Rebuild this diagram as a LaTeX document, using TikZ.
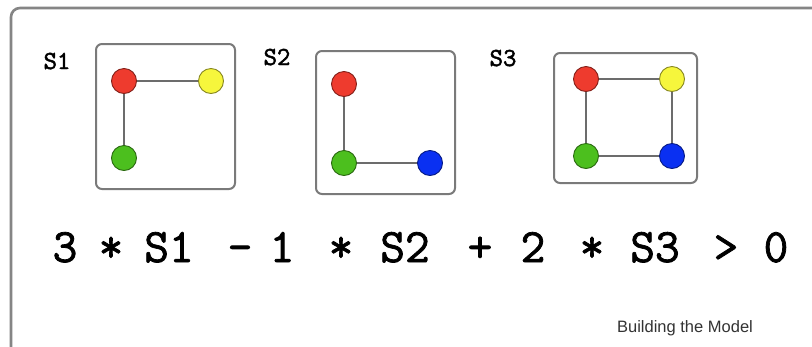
\documentclass[tikz,border=0pt]{standalone}
\usepackage{fontspec}
\setmainfont{Liberation Sans}
\newfontfamily\eqfont{Latin Modern Mono}[FakeBold=1.6]
\newfontfamily\lblfont{Latin Modern Mono}[FakeBold=1.8]
\definecolor{dotred}{HTML}{EE3B2E}
\definecolor{dotyellow}{HTML}{F6F63C}
\definecolor{dotgreen}{HTML}{4CBF1E}
\definecolor{dotblue}{HTML}{0A30F2}
\definecolor{framegray}{HTML}{858585}
\definecolor{boxgray}{HTML}{7A7A7A}
\definecolor{edgegray}{HTML}{6C6C6C}
\begin{document}
\begin{tikzpicture}[x=1bp,y=-1bp,
  dot/.style={circle, minimum size=25bp, inner sep=0pt, fill=#1, draw=#1!55!black, line width=0.9bp},
  panel/.style={draw=boxgray, line width=2bp, rounded corners=6bp, fill=white},
  link/.style={draw=edgegray, line width=1.7bp},
  lbl/.style={font=\lblfont\fontsize{26bp}{26bp}\selectfont, anchor=base, inner sep=0pt},
  term/.style={font=\eqfont\fontsize{48bp}{48bp}\selectfont, anchor=base, inner sep=0pt},
  caption/.style={font=\fontsize{16.5bp}{16.5bp}\selectfont, text=black!80, anchor=base, inner sep=0pt}]
\useasboundingbox (0,0) rectangle (812,346);
\fill[white] (0,0) rectangle (812,346);

% outer frame, running off the right and bottom edges
\draw[framegray, line width=2.6bp, rounded corners=9bp] (11,360) -- (11,8) -- (830,8);

% panel S1
\node[lbl] (s1) at (57,69) {S1};
\draw[panel] (96,44) rectangle (235,189);
\node[dot=dotred]    (a1) at (124,81) {};
\node[dot=dotyellow] (b1) at (211,81) {};
\node[dot=dotgreen]  (c1) at (124,158) {};
\draw[link] (a1) -- (b1);
\draw[link] (a1) -- (c1);

% panel S2
\node[lbl] (s2) at (277,65) {S2};
\draw[panel] (316,51) rectangle (455,194);
\node[dot=dotred]   (a2) at (344,84) {};
\node[dot=dotgreen] (c2) at (344,163) {};
\node[dot=dotblue]  (d2) at (430,163) {};
\draw[link] (a2) -- (c2);
\draw[link] (c2) -- (d2);

% panel S3
\node[lbl] (s3) at (503,66) {S3};
\draw[panel] (554,53) rectangle (697,183);
\node[dot=dotred]    (a3) at (586,79) {};
\node[dot=dotyellow] (b3) at (672,79) {};
\node[dot=dotgreen]  (c3) at (586,156) {};
\node[dot=dotblue]   (d3) at (672,156) {};
\draw[link] (a3) -- (b3);
\draw[link] (b3) -- (d3);
\draw[link] (c3) -- (d3);
\draw[link] (a3) -- (c3);

% weighted sum
\node[term] (t1)  at (65,262)  {3};
\node[term] (t2)  at (111,262) {*};
\node[term] (t3)  at (169,262) {S1};
\node[term] (t4)  at (240,262) {-};
\node[term] (t5)  at (282,262) {1};
\node[term] (t6)  at (341,262) {*};
\node[term] (t7)  at (405,262) {S2};
\node[term] (t8)  at (480,262) {+};
\node[term] (t9)  at (533,262) {2};
\node[term] (t10) at (592,262) {*};
\node[term] (t11) at (655,262) {S3};
\node[term] (t12) at (726,262) {>};
\node[term] (t13) at (776,262) {0};

\node[caption] (cap) at (685,332) {Building the Model};
\end{tikzpicture}
\end{document}
